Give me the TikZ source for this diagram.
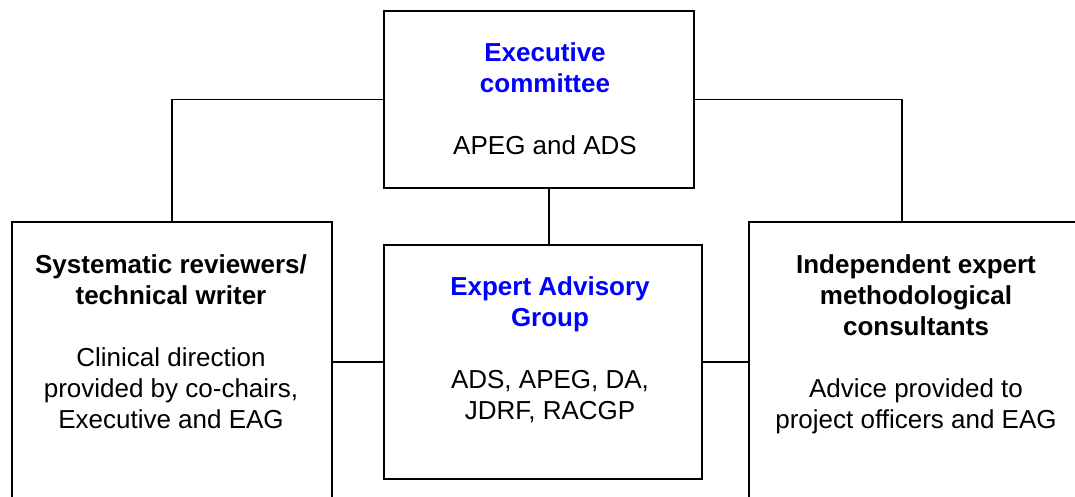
\documentclass[tikz,border=0pt]{standalone}
\usepackage{fontspec}
\setmainfont{Liberation Sans}
\usetikzlibrary{positioning}
\definecolor{ttlblue}{RGB}{0,0,255}
\tikzset{
  line/.style={line width=1.6pt},
  % boxes
  box/.style={draw,rectangle,line width=2pt,anchor=north west,inner sep=0pt},
  % texts (base = baseline of the last line)
  txt/.style={align=center,anchor=base,inner sep=0pt,font=\fontsize{26}{31}\selectfont}
}
\newcommand{\hd}[1]{\textbf{#1}}
\newcommand{\bhd}[1]{\textcolor{ttlblue}{\textbf{#1}}}

\begin{document}
\begin{tikzpicture}[x=1pt,y=-1pt]
  \useasboundingbox (0,0) rectangle (1075,497);
  \clip (0,0) rectangle (1075,497);

  %--- boxes
  \node[box,minimum width=310pt,minimum height=177pt] (exec) at (383,10)  {};
  \node[box,minimum width=318pt,minimum height=234pt] (eag)  at (383,244) {};
  \node[box,minimum width=320pt,minimum height=320pt] (sr)   at (11,221)  {};
  \node[box,minimum width=340pt,minimum height=320pt] (iem)  at (748,221) {};

  %--- texts
  \node[txt] (exec-txt) at (545,155) {\bhd{Executive}\\\bhd{committee}\\[31pt]APEG and ADS};
  \node[txt] (eag-txt)  at (550,419) {\bhd{Expert Advisory}\\\bhd{Group}\\[31pt]ADS, APEG, DA,\\JDRF, RACGP};
  \node[txt] (sr-txt)   at (171,428) {\hd{Systematic reviewers/}\\\hd{technical writer}\\[31pt]Clinical direction\\provided by co-chairs,\\Executive and EAG};
  \node[txt] (iem-txt)  at (916,428) {\hd{Independent expert}\\\hd{methodological}\\\hd{consultants}\\[31pt]Advice provided to\\project officers and EAG};

  %--- connectors
  \draw[line] (exec.west) -| (sr.north);
  \draw[line] (exec.east) -| ([xshift=154pt]iem.north west);
  \draw[line] ([xshift=10pt]exec.south) -- ([xshift=10pt]exec.south |- eag.north);
  \draw[line] (eag.west) -- (eag.west -| sr.east);
  \draw[line] (eag.east) -- (eag.east -| iem.west);
\end{tikzpicture}
\end{document}
